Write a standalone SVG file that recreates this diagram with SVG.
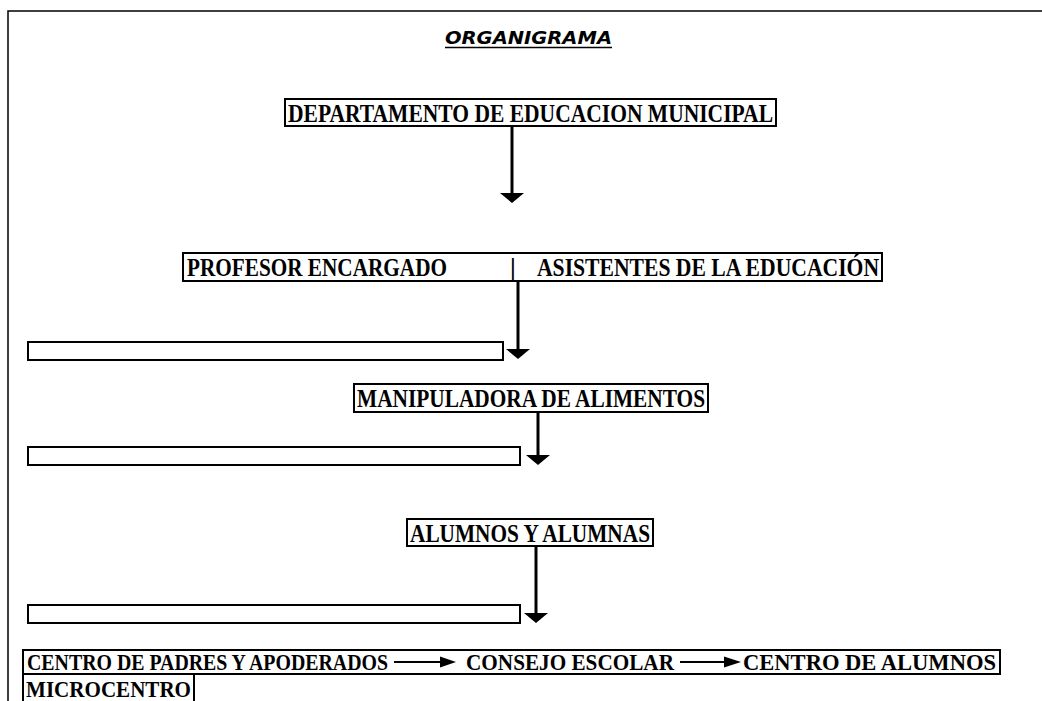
<svg xmlns="http://www.w3.org/2000/svg" width="1042" height="701" viewBox="0 0 1042 701">
<style>
.box{fill:#fff;stroke:#000;stroke-width:2}
.lbl{font-family:"Liberation Serif","Times New Roman",serif;font-weight:bold;font-size:26px;fill:#000}
.sm{font-size:23px}
.title{font-family:"DejaVu Sans","Liberation Sans",sans-serif;font-weight:bold;font-style:italic;font-size:18px;fill:#000}
.conn{stroke:#000;stroke-width:3;fill:none}
.thin{stroke:#000;stroke-width:2;fill:none}
.head{fill:#000}
</style>
<rect width="1042" height="701" fill="#fff"/>
<g id="page">
<polyline points="8,701 8,11 1042,11" fill="none" stroke="#000" stroke-width="1.5"/>
<text class="title" x="528.5" y="44" text-anchor="middle" textLength="167" lengthAdjust="spacingAndGlyphs">ORGANIGRAMA</text>
<line x1="445" y1="47.5" x2="612" y2="47.5" stroke="#000" stroke-width="1.4"/>
</g>
<g id="dem">
<rect class="box" x="285" y="99" width="491" height="27"/>
<text class="lbl" x="288" y="122" textLength="485" lengthAdjust="spacingAndGlyphs">DEPARTAMENTO DE EDUCACION MUNICIPAL</text>
</g>
<g id="profesor">
<rect class="box" x="183" y="253" width="699" height="28"/>
<text class="lbl" x="187" y="276" textLength="260" lengthAdjust="spacingAndGlyphs">PROFESOR  ENCARGADO</text>
<text class="lbl" x="510" y="276">|</text>
<text class="lbl" x="537" y="276" textLength="342" lengthAdjust="spacingAndGlyphs">ASISTENTES DE LA EDUCACIÓN</text>
</g>
<g id="blank1"><rect class="box" x="28" y="342" width="475" height="18"/></g>
<g id="manipuladora">
<rect class="box" x="354" y="384" width="354" height="28"/>
<text class="lbl" x="357" y="407" textLength="348" lengthAdjust="spacingAndGlyphs">MANIPULADORA DE ALIMENTOS</text>
</g>
<g id="blank2"><rect class="box" x="28" y="447" width="492" height="18"/></g>
<g id="alumnos">
<rect class="box" x="407" y="519" width="246" height="27"/>
<text class="lbl" x="410" y="542" textLength="240" lengthAdjust="spacingAndGlyphs">ALUMNOS Y ALUMNAS</text>
</g>
<g id="blank3"><rect class="box" x="28" y="605" width="492" height="18"/></g>
<g id="centro">
<rect class="box" x="23" y="650" width="977" height="24"/>
<text class="lbl sm" x="27" y="670" textLength="361" lengthAdjust="spacingAndGlyphs">CENTRO DE  PADRES Y APODERADOS</text>
<text class="lbl sm" x="466" y="670" textLength="208" lengthAdjust="spacingAndGlyphs">CONSEJO ESCOLAR</text>
<text class="lbl sm" x="743" y="670" textLength="253" lengthAdjust="spacingAndGlyphs">CENTRO DE ALUMNOS</text>
</g>
<g id="microcentro">
<rect class="box" x="23" y="674" width="171" height="35"/>
<text class="lbl sm" x="26" y="697" textLength="165" lengthAdjust="spacingAndGlyphs">MICROCENTRO</text>
</g>
<g id="connectors">
<line class="conn" x1="512" y1="126" x2="512" y2="194"/>
<polygon class="head" points="500,193 524,193 512,203"/>
<line class="conn" x1="518" y1="281" x2="518" y2="350"/>
<polygon class="head" points="506,349 530,349 518,359"/>
<line class="conn" x1="538" y1="412" x2="538" y2="456"/>
<polygon class="head" points="526,455 550,455 538,465"/>
<line class="conn" x1="536" y1="546" x2="536" y2="614"/>
<polygon class="head" points="524,613 548,613 536,623"/>
<line class="thin" x1="394" y1="662" x2="442" y2="662"/>
<polygon class="head" points="440,656.5 456,662 440,667.5"/>
<line class="thin" x1="680" y1="662" x2="726" y2="662"/>
<polygon class="head" points="724,656.5 741,662 724,667.5"/>
</g>
</svg>
